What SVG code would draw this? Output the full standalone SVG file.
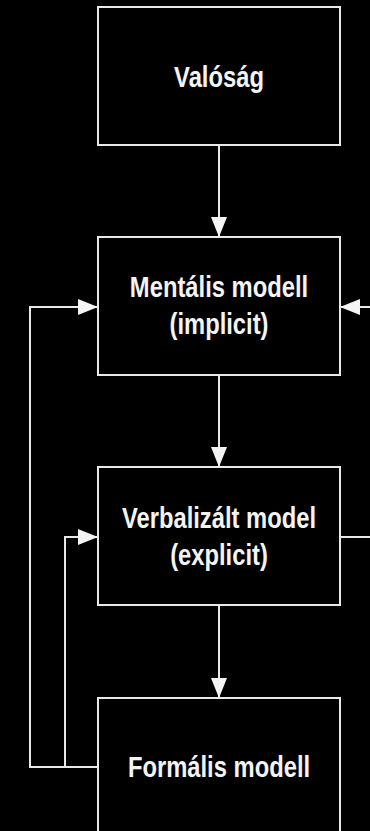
<svg xmlns="http://www.w3.org/2000/svg" width="370" height="831" viewBox="0 0 370 831">
<style>
.box{fill:#000;stroke:#e8e8e8;stroke-width:2}
.lbl{font-family:"Liberation Sans",Arial,sans-serif;font-weight:bold;font-size:29px;fill:#f4f4f4;text-anchor:middle}
.con{fill:none;stroke:#e8e8e8;stroke-width:2}
</style>
<defs>
<marker id="ah" markerUnits="userSpaceOnUse" markerWidth="20" markerHeight="16" refX="20" refY="8" orient="auto">
<path d="M0,0 L20,8 L0,16 Z" fill="#f4f4f4"/>
</marker>
</defs>
<rect width="370" height="831" fill="#000"/>
<g id="connectors">
<path class="con" d="M219,145 V237" marker-end="url(#ah)"/>
<path class="con" d="M219,375 V467" marker-end="url(#ah)"/>
<path class="con" d="M219,605 V698" marker-end="url(#ah)"/>
<path class="con" d="M98,767 H30 V307 H98" marker-end="url(#ah)"/>
<path class="con" d="M65,767 V537 H98" marker-end="url(#ah)"/>
<path class="con" d="M372,307 H340" marker-end="url(#ah)"/>
<path class="con" d="M340,537 H372"/>
</g>
<g id="valosag">
<rect class="box" x="98" y="7" width="242" height="138"/>
<text class="lbl" transform="translate(219,87) scale(0.82,1)">Valóság</text>
</g>
<g id="mentalis">
<rect class="box" x="98" y="237" width="242" height="138"/>
<text class="lbl" transform="translate(219,297) scale(0.82,1)">Mentális modell</text>
<text class="lbl" transform="translate(219,334) scale(0.82,1)">(implicit)</text>
</g>
<g id="verbalizalt">
<rect class="box" x="98" y="467" width="242" height="138"/>
<text class="lbl" transform="translate(219,528) scale(0.82,1)">Verbalizált model</text>
<text class="lbl" transform="translate(219,565) scale(0.82,1)">(explicit)</text>
</g>
<g id="formalis">
<rect class="box" x="98" y="698" width="242" height="140"/>
<text class="lbl" transform="translate(219,777) scale(0.82,1)">Formális modell</text>
</g>
</svg>
